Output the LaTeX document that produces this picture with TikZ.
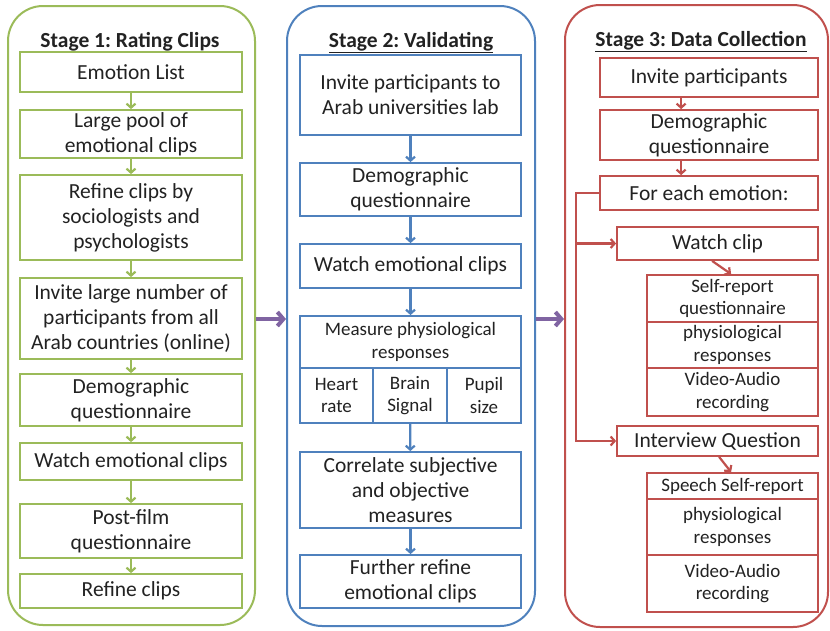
\documentclass[tikz,border=0pt]{standalone}
\usepackage{fontspec}
\setmainfont{Carlito}
\frenchspacing
\usetikzlibrary{arrows.meta,calc}
\definecolor{cg}{HTML}{9BBB59}
\definecolor{cb}{HTML}{4F81BD}
\definecolor{cr}{HTML}{C0504D}
\definecolor{cp}{HTML}{8064A2}
\definecolor{tx}{HTML}{222222}
\tikzset{
  bx/.style={draw, line width=1.8pt, fill=white, align=center, inner sep=0pt, text=tx,
    font=\fontsize{21.5}{25}\selectfont},
  sm/.style={font=\fontsize{19}{22.5}\selectfont},
  stagebox/.style={draw, line width=2pt, rounded corners=35pt, inner sep=0pt},
  arr/.style={line width=2.2pt, -{Straight Barb[length=4pt,width=9pt]}},
  bigarr/.style={cp, line width=4pt, -{Straight Barb[length=6pt,width=14pt]}},
  ttl/.style={font=\bfseries\fontsize{21.5}{25}\selectfont, text=tx, anchor=base, inner sep=0pt}
}
\begin{document}
\begin{tikzpicture}[x=1pt,y=-1pt]
\useasboundingbox (0,0) rectangle (830,630);
% stage containers
\node[stagebox, draw=cg, minimum width=247pt, minimum height=619pt] (st1) at (131.5,315.5) {};
\node[stagebox, draw=cb, minimum width=248pt, minimum height=620pt] (st2) at (411,316) {};
\node[stagebox, draw=cr, minimum width=263pt, minimum height=622pt] (st3) at (696.5,316) {};
% titles
\node[ttl] (t1) at (130,47) {\underline{Stage 1: Rating Clips}};
\node[ttl] (t2) at (411,47) {\underline{Stage 2: Validating}};
\node[ttl] (t3) at (701,46) {\underline{Stage 3: Data Collection}};
% stage 1
\begin{scope}[every node/.style={bx, draw=cg, minimum width=222pt}]
\node[minimum height=40pt] (s1a) at (131,72) {Emotion List};
\node[minimum height=48pt] (s1b) at (131,134) {Large pool of\\emotional clips};
\node[minimum height=85pt] (s1c) at (131,217.5) {Refine clips by\\sociologists and\\psychologists};
\node[minimum height=81pt] (s1d) at (131,318.5) {Invite large number of\\participants from all\\Arab countries (online)};
\node[minimum height=52pt] (s1e) at (131,400) {Demographic\\questionnaire};
\node[minimum height=37pt] (s1f) at (131,461.5) {Watch emotional clips};
\node[minimum height=54pt] (s1g) at (131,531) {Post-film\\questionnaire};
\node[minimum height=34pt] (s1h) at (131,591) {Refine clips};
\end{scope}
\begin{scope}[cg]
\draw[arr] (s1a) -- (s1b);
\draw[arr] (s1b) -- (s1c);
\draw[arr] (s1c) -- (s1d);
\draw[arr] (s1d) -- (s1e);
\draw[arr] (s1e) -- (s1f);
\draw[arr] (s1f) -- (s1g);
\draw[arr] (s1g) -- (s1h);
\end{scope}
% stage 2
\begin{scope}[every node/.style={bx, draw=cb, minimum width=221pt}]
\node[minimum height=80pt] (s2a) at (410.5,95) {Invite participants to\\Arab universities lab};
\node[minimum height=53pt] (s2b) at (410.5,189.5) {Demographic\\questionnaire};
\node[minimum height=44pt] (s2c) at (410.5,266) {Watch emotional clips};
\node[minimum height=52pt, sm] (s2d) at (410.5,342) {Measure physiological\\responses};
\node[minimum height=55pt, minimum width=73pt, sm] (s2h) at (336.5,395.5) {Heart\\rate};
\node[minimum height=55pt, minimum width=74pt, sm] (s2i) at (410,395.5) {Brain\\Signal};
\node[minimum height=55pt, minimum width=74pt, sm] (s2j) at (484,395.5) {Pupil\\size};
\node[minimum height=76pt] (s2e) at (410.5,490) {Correlate subjective\\and objective\\measures};
\node[minimum height=53pt] (s2f) at (410.5,581.5) {Further refine\\emotional clips};
\end{scope}
\begin{scope}[cb]
\draw[arr] (s2a) -- (s2b);
\draw[arr] (s2b) -- (s2c);
\draw[arr] (s2c) -- (s2d);
\draw[arr] (s2i) -- (s2e);
\draw[arr] (s2e) -- (s2f);
\end{scope}
% stage 3
\begin{scope}[every node/.style={bx, draw=cr}]
\node[minimum width=218pt, minimum height=39pt] (s3a) at (709,77.5) {Invite participants};
\node[minimum width=218pt, minimum height=50pt] (s3b) at (709,135) {Demographic\\questionnaire};
\node[minimum width=218pt, minimum height=34pt] (s3c) at (709,193) {For each emotion:};
\node[minimum width=201pt, minimum height=33pt] (s3d) at (717.5,243.5) {Watch clip};
\node[minimum width=171pt, minimum height=47pt, sm] (s3e) at (732.5,298.5) {Self-report\\questionnaire};
\node[minimum width=171pt, minimum height=46pt, sm] (s3f) at (732.5,345) {physiological\\responses};
\node[minimum width=171pt, minimum height=48pt, sm] (s3g) at (732.5,392) {Video-Audio\\recording};
\node[minimum width=201pt, minimum height=30pt] (s3h) at (717.5,441) {Interview Question};
\node[minimum width=171pt, minimum height=26pt, sm] (s3i) at (732.5,486) {Speech Self-report};
\node[minimum width=171pt, minimum height=56pt, sm] (s3j) at (732.5,527) {physiological\\responses};
\node[minimum width=171pt, minimum height=57pt, sm] (s3k) at (732.5,583.5) {Video-Audio\\recording};
\end{scope}
\begin{scope}[cr]
\draw[arr] ($(s3a.south west)+(82,0)$) -- ($(s3b.north west)+(82,0)$);
\draw[arr] ($(s3b.south west)+(82,0)$) -- ($(s3c.north west)+(82,0)$);
\coordinate (lt) at ($(s3c.west)+(-23,0)$);
\draw[arr] (s3c.west) -- (lt) |- (s3h.west);
\draw[arr] (lt |- s3d.west) -- (s3d.west);
\draw[arr] ($(s3d.south west)+(96,0)$) -- ($(s3e.north west)+(85,0)$);
\draw[arr] ($(s3h.south west)+(103,0)$) -- ($(s3i.north west)+(85,0)$);
\end{scope}
% between stages
\draw[bigarr] (st1.east |- 0,319) -- (st2.west |- 0,319);
\draw[bigarr] (st2.east |- 0,319) -- (st3.west |- 0,319);
\end{tikzpicture}
\end{document}
